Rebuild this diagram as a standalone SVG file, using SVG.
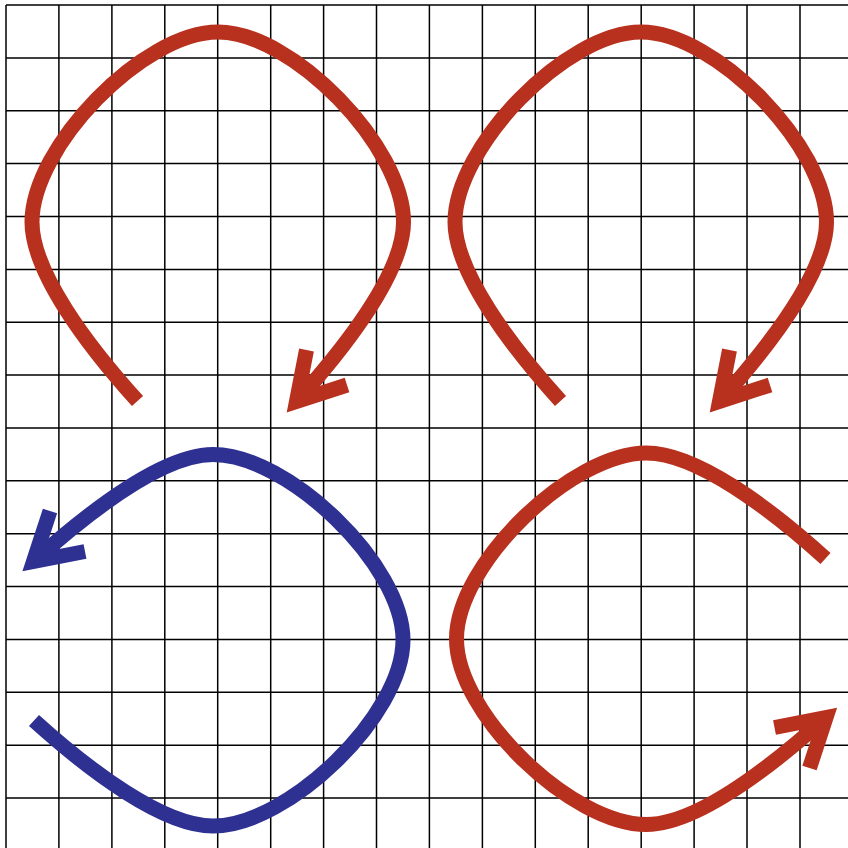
<svg xmlns="http://www.w3.org/2000/svg" width="848" height="848" viewBox="0 0 848 848">
<style>
.grid{fill:none;stroke:#000;stroke-width:1.5}
.curve{fill:none;stroke-width:15;stroke-linecap:butt;stroke-linejoin:miter;stroke-miterlimit:6}
.red{stroke:#B8301E}
.blue{stroke:#2E3192}
</style>
<defs>
<g id="loop" class="curve">
<path d="M137.5,401 C87.3,345.5 32,272 32,222 C32,147 143,32 218,32 C293,32 403.5,147 403.5,222 C403.5,272 346.5,345.6 296.5,401.5"/>
<polyline points="306.5,350 296.5,401.5 347,385"/>
</g>
</defs>
<rect width="848" height="848" fill="#fff"/>
<g id="grid">
<path class="grid" d="M6,5V848M58.9,5V848M111.9,5V848M164.8,5V848M217.7,5V848M270.7,5V848M323.6,5V848M376.5,5V848M429.4,5V848M482.4,5V848M535.3,5V848M588.2,5V848M641.2,5V848M694.1,5V848M747,5V848M800,5V848"/>
<path class="grid" d="M6,5H848M6,57.9H848M6,110.7H848M6,163.6H848M6,216.5H848M6,269.4H848M6,322.2H848M6,375.1H848M6,428H848M6,480.8H848M6,533.7H848M6,586.6H848M6,639.4H848M6,692.3H848M6,745.2H848M6,798H848"/>
</g>
<g id="connectors">
<use id="loop-top-left" href="#loop" class="red"/>
<use id="loop-top-right" href="#loop" class="red" transform="translate(423,0)"/>
<use id="loop-bottom-left" href="#loop" class="blue" transform="matrix(0,-1,-1,0,435,858)"/>
<use id="loop-bottom-right" href="#loop" class="red" transform="matrix(0,1,1,0,424.5,421)"/>
</g>
</svg>
